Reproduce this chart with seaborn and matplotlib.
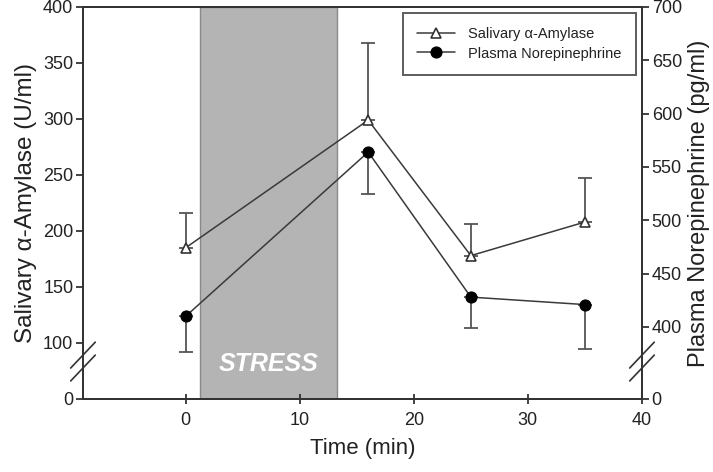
import numpy as np
import matplotlib
matplotlib.use("Agg")
import matplotlib.pyplot as plt
import seaborn as sns

# data
time_min = [0, 16, 25, 35]
amylase = [185, 299, 178, 208]            # U/ml (left axis)
amylase_err_up = [31, 69, 28, 39]
norepi = [410, 564, 428, 421]             # pg/ml (right axis)
norepi_err_down = [33, 39, 29, 42]
stress_start, stress_end = 1.3, 13.3

left_ticks = [100, 150, 200, 250, 300, 350, 400]
right_ticks = [400, 450, 500, 550, 600, 650, 700]
left_zero = 50      # where "0" sits below the axis break
right_zero = 332.5

sns.set_style("ticks")
plt.rcParams["font.family"] = ["Liberation Sans", "DejaVu Sans"]
txt = "#222222"
line_c = "#3a3a3a"

fig = plt.figure(figsize=(7.13, 4.72), dpi=100)
ax = fig.add_axes([0.1164, 0.1547, 0.7840, 0.8305])
ax2 = ax.twinx()

ax.axvspan(stress_start, stress_end, facecolor="#b4b4b4", edgecolor="#8a8a8a", lw=1, zorder=0)
ax.text(7.3, 81, "STRESS", color="white", fontsize=18, fontweight="bold", fontstyle="italic",
        ha="center", va="center", zorder=1)

ax.errorbar(time_min, amylase, yerr=[np.zeros(4), amylase_err_up], fmt="none",
            ecolor="#555555", elinewidth=1.3, capsize=5, capthick=1.3, zorder=2)
sns.lineplot(x=time_min, y=amylase, ax=ax, color=line_c, lw=1.1, marker="^", markersize=7,
             markerfacecolor="white", markeredgecolor="#333333", markeredgewidth=1.2,
             label="Salivary \u03b1-Amylase", zorder=3, legend=False)

ax2.errorbar(time_min, norepi, yerr=[norepi_err_down, np.zeros(4)], fmt="none",
             ecolor="#555555", elinewidth=1.3, capsize=5, capthick=1.3, zorder=2)
sns.lineplot(x=time_min, y=norepi, ax=ax2, color=line_c, lw=1.1, marker="o", markersize=8,
             markerfacecolor="black", markeredgecolor="black",
             label="Plasma Norepinephrine", zorder=3, legend=False)

ax.set_xlim(-9, 40)
ax.set_xticks([0, 10, 20, 30, 40])
ax.set_ylim(left_zero, 400)
ax.set_yticks([left_zero] + left_ticks, ["0"] + [str(t) for t in left_ticks])
ax2.set_ylim(right_zero, 700)
ax2.set_yticks([right_zero] + right_ticks, ["0"] + [str(t) for t in right_ticks])

ax.set_xlabel("Time (min)", fontsize=16, color=txt, labelpad=6)
ax.set_ylabel("Salivary \u03b1-Amylase (U/ml)", fontsize=17.5, color=txt, labelpad=4)
ax2.set_ylabel("Plasma Norepinephrine (pg/ml)", fontsize=17, color=txt, labelpad=4)

for a in (ax, ax2):
    for s in a.spines.values():
        s.set_visible(True)
        s.set_color("#333333")
        s.set_linewidth(1.4)
    a.tick_params(labelsize=13, colors=txt, width=1.2, length=5, pad=2)
ax.tick_params(axis="x", direction="inout", length=7, pad=6)

# axis break marks
for a, xpos in ((ax, 0.0), (ax, 1.0)):
    a.plot([xpos, xpos], [0.085, 0.108], transform=a.transAxes, color="white", lw=3,
           clip_on=False, zorder=5)
    for yc in (0.079, 0.112):
        a.plot([xpos - 0.022, xpos + 0.022], [yc - 0.033, yc + 0.033], transform=a.transAxes,
               color="#333333", lw=1.2, clip_on=False, zorder=6)

h1, l1 = ax.get_legend_handles_labels()
h2, l2 = ax2.get_legend_handles_labels()
leg = ax2.legend(h1 + h2, l1 + l2, loc="upper right", bbox_to_anchor=(0.99, 0.985),
                 fontsize=10.5, frameon=True, fancybox=False, handlelength=2.6,
                 borderpad=1.0, labelspacing=0.35, borderaxespad=0, handletextpad=0.9)
leg.get_frame().set_edgecolor("#333333")
leg.get_frame().set_linewidth(1.4)
for t in leg.get_texts():
    t.set_color(txt)

fig.savefig("out.png", dpi=100)
